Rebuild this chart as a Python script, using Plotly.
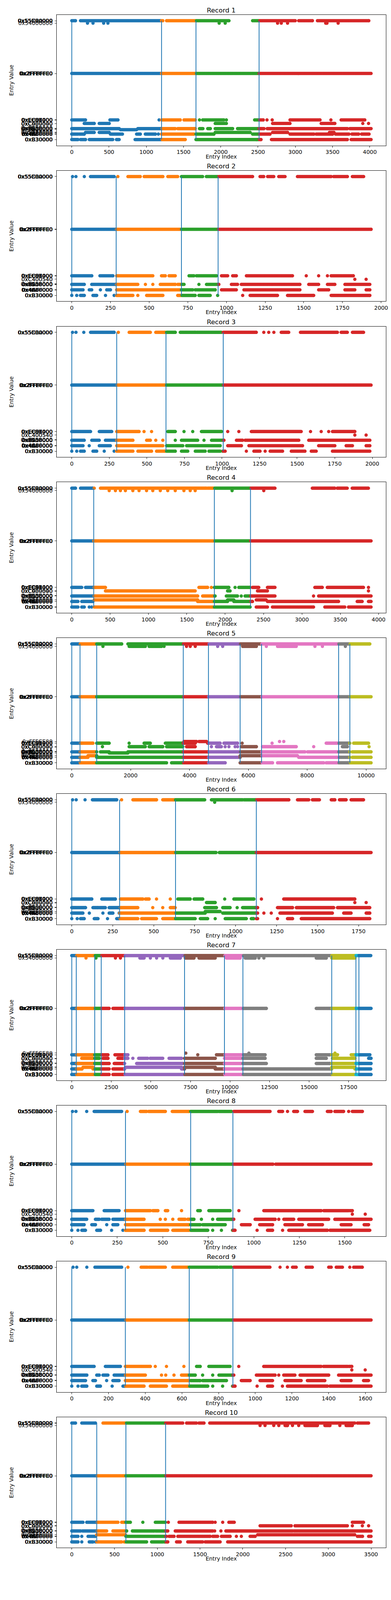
import numpy as np
import plotly.graph_objects as go

# ---------------- colours (matplotlib tab10 cycle) ----------------
TAB10 = ["#1f77b4", "#ff7f0e", "#2ca02c", "#d62728", "#9467bd",
         "#8c564b", "#e377c2", "#7f7f7f", "#bcbd22", "#17becf"]

# ---------------- value levels (entry values) ----------------
Y_T = 0x55C00000
Y_T2 = 0x54000000
Y_M = 0x2FFFFFE0
Y_L1A = 0xFFFCE80
Y_L1 = 0xEC03000
Y_L2 = 0xC400540
Y_L3 = 0x8900000
Y_L3B = 0x7D00000
Y_L4B = 0x5D00000
Y_L4 = 0x4A80000
Y_L5 = 0xB30000

# tick values shown on the y axes (clusters of nearby values)
TICKS_T = [0x55C00000, 0x55BFFF40, 0x55C3A000, 0x55BC0000, 0x55C0A540, 0x55BE5500, 0x55C1F000]
TICKS_T2 = [0x54000000]
TICKS_M = [0x2FFFFFE0, 0x2FFFF800, 0x2FFFE000, 0x2FFF8000, 0x2FFE0000, 0x2FF8FFE0, 0x2FFC7FE0]
TICKS_L1A = [0xFFFCE80]
TICKS_L1 = [0xEC03000, 0xEC31000, 0xECE3000, 0xEB9F000, 0xEC0C480, 0xEC9B400]
TICKS_L2_FULL = [0xC400540, 0xC000000, 0xC0B9000]
TICKS_L2_SIMPLE = [0xC400540, 0xC3F0540]
TICKS_L3 = [0x8900000, 0x8913F40, 0x88FE000, 0x8A3F000, 0x8E00000, 0x8D5B000]
TICKS_L3B = [0x7D00000]
TICKS_L4B = [0x5D00000, 0x5EFF000]
TICKS_L4 = [0x4A80000, 0x4AFF000, 0x4B3F000, 0x4C00000, 0x4A00000, 0x4BE5000]
TICKS_L5 = [0xB30000, 0xB2FF80, 0xB3F000, 0xB20000, 0xB4E000, 0xB3A9E0]

# ---------------- Record 1 ----------------
R1_N = 4017
R1_DTICK = 500
R1_BOUNDS = [0, 1205, 1667, 2514]
R1_T = [[0, 50], [117, 1205], [1222, 1222], [1272, 2110], [2427, 3000], [3046, 3230], [3297, 3986]]
R1_T2 = [[211, 211], [285, 285], [428, 428], [485, 485], [1978, 1978], [2059, 2059], [2762, 2762],
         [2812, 2812], [2896, 2896], [3408, 3425], [3575, 3575]]
R1_M = [[0, 4017]]
R1_L1 = [[0, 184], [512, 620], [1172, 1172], [1205, 1456], [1506, 1657], [1714, 1714], [1757, 2042],
         [2075, 2075], [2454, 2570], [2620, 2620], [2690, 2690], [2929, 3331], [3478, 3478], [3615, 3933]]
R1_L2 = [[167, 301], [368, 502], [1925, 2075], [2695, 2929], [3347, 3531], [3906, 3906], [3983, 3983]]
R1_L3 = [[0, 636], [887, 1389], [1422, 1657], [1714, 1760], [1825, 1860], [1925, 2159], [2225, 2390],
         [2400, 2580], [2623, 3699], [3732, 4017]]
R1_L3B = [[653, 870]]
R1_L4B = [[184, 301], [368, 502], [1925, 2394], [2695, 2896], [3458, 3520]]
R1_L4 = [[0, 84], [100, 167], [519, 680], [870, 920], [987, 1122], [1162, 1162], [1205, 1640],
         [1667, 1908], [2427, 2661], [2929, 3250], [3280, 3500], [3540, 3720], [3760, 3850], [3890, 3990]]
R1_L5 = [[0, 84], [117, 184], [235, 550], [600, 636], [850, 1523], [1667, 2480], [2490, 2540],
         [2680, 3699], [3750, 4017]]

# ---------------- Record 2 ----------------
R2_N = 1935
R2_DTICK = 250
R2_BOUNDS = [0, 287, 709, 946]
R2_T = [[5, 5], [27, 27], [81, 81], [121, 274], [298, 298], [363, 443], [468, 589], [621, 685],
        [709, 846], [870, 943], [951, 1169], [1217, 1241], [1266, 1306], [1338, 1379], [1459, 1677],
        [1693, 1782], [1814, 1887]]
R2_M = [[0, 1935]]
R2_L1 = [[0, 129], [182, 266], [290, 524], [580, 605], [629, 669], [758, 790], [806, 935], [968, 1008],
         [1040, 1064], [1129, 1427], [1516, 1516], [1596, 1596], [1653, 1653], [1677, 1820]]
R2_L2 = [[1830, 1830], [1903, 1903]]
R2_L3 = [[0, 81], [129, 282], [290, 427], [476, 476], [524, 524], [572, 669], [685, 726], [822, 822],
         [871, 951], [1032, 1072], [1096, 1475], [1532, 1596], [1653, 1701], [1766, 1927]]
R2_L4 = [[0, 73], [113, 129], [185, 185], [226, 250], [290, 701], [709, 782], [798, 927], [968, 1064],
         [1113, 1475], [1596, 1661], [1766, 1830], [1903, 1927]]
R2_L5 = [[0, 0], [32, 32], [56, 81], [137, 161], [218, 218], [274, 274], [290, 395], [427, 427],
         [484, 589], [685, 798], [822, 895], [943, 943], [1105, 1105], [1153, 1330], [1395, 1564],
         [1677, 1927]]

# ---------------- Record 3 ----------------
R3_N = 1992
R3_DTICK = 250
R3_BOUNDS = [0, 299, 627, 1008]
R3_T = [[5, 5], [28, 28], [80, 80], [125, 282], [310, 310], [382, 523], [559, 622], [631, 689],
        [722, 822], [830, 996], [1008, 1228], [1278, 1278], [1311, 1311], [1345, 1345], [1394, 1444],
        [1522, 1768], [1793, 1834], [1868, 1942]]
R3_M = [[0, 1992]]
R3_L1 = [[0, 125], [183, 266], [299, 448], [481, 481], [531, 531], [639, 689], [747, 747], [805, 805],
         [863, 996], [1038, 1038], [1112, 1112], [1195, 1527], [1589, 1589], [1660, 1660], [1710, 1710],
         [1735, 1884]]
R3_L2 = [[1884, 1884], [1959, 1959]]
R3_L3 = [[0, 83], [133, 183], [224, 407], [498, 523], [559, 559], [606, 606], [689, 689], [730, 838],
         [880, 880], [930, 1013], [1096, 1137], [1154, 1511], [1577, 1984]]
R3_L4 = [[0, 75], [116, 116], [183, 257], [299, 606], [631, 739], [764, 988], [1038, 1129], [1179, 1536],
         [1643, 1751], [1826, 1868], [1959, 1984]]
R3_L5 = [[0, 0], [33, 33], [58, 83], [141, 166], [216, 216], [282, 282], [299, 407], [440, 531],
         [564, 622], [631, 689], [730, 772], [822, 888], [913, 988], [1004, 1021], [1162, 1162],
         [1212, 1253], [1287, 1287], [1320, 1403], [1461, 1552], [1594, 1627], [1735, 1984]]

# ---------------- Record 4 ----------------
R4_N = 3902
R4_DTICK = 500
R4_BOUNDS = [0, 286, 1859, 2330]
R4_T = [[0, 49], [114, 276], [293, 293], [374, 1755], [1771, 2649], [3136, 3429], [3461, 3591], [3656, 3867]]
R4_T2 = [[488, 488], [569, 569], [634, 634], [699, 699], [796, 796], [877, 877], [975, 975], [1056, 1056],
         [1154, 1154], [1251, 1251], [1349, 1349], [1462, 1462], [1544, 1544], [1609, 1609], [2090, 2090],
         [2503, 2503]]
R4_M = [[0, 3902]]
R4_L1 = [[0, 130], [179, 276], [293, 439], [1658, 1771], [1820, 1820], [1859, 2048], [2129, 2129],
         [2178, 2324], [2356, 2438], [2551, 2649], [3169, 3266], [3331, 3803], [3868, 3868]]
R4_L2 = [[439, 1609], [2031, 2064], [2421, 2551], [3868, 3868]]
R4_L3 = [[0, 276], [293, 1641], [1706, 1869], [2015, 2161], [2210, 2210], [2259, 2649], [3152, 3152],
         [3218, 3902]]
R4_L4B = [[293, 1641], [2031, 2113], [2405, 2535]]
R4_L4 = [[0, 81], [130, 276], [1641, 1836], [1859, 2031], [2113, 2356], [2551, 3283], [3299, 3478],
         [3721, 3786], [3868, 3902]]
R4_L5 = [[0, 81], [130, 163], [228, 228], [260, 260], [293, 1853], [1859, 2324], [2405, 2551],
         [2616, 3152], [3299, 3559], [3608, 3902]]

# ---------------- Record 5 ----------------
R5_N = 10169
R5_DTICK = 2000
R5_BOUNDS = [0, 280, 847, 3788, 4644, 5720, 6449, 9067, 9448]
R5_T = [[0, 1695], [1907, 10127]]
R5_T2 = [[1059, 1059], [1949, 2500], [2627, 3051], [3135, 3135], [3898, 3898], [4025, 4025], [4195, 4195],
         [4957, 4957], [5127, 5127], [5805, 6271], [6610, 6610], [6991, 7330], [7372, 7627], [8262, 8262],
         [8516, 8516], [9296, 9296]]
R5_M = [[0, 10169]]
R5_L1A = [[3813, 4237], [4322, 4576], [7059, 7059], [7203, 7203]]
R5_L1 = [[0, 212], [254, 720], [847, 1271], [1949, 1949], [2457, 2669], [3178, 3771], [3788, 4195],
         [4618, 5042], [5169, 5635], [5788, 5788], [6805, 6805], [8644, 9448], [9576, 10084]]
R5_L2 = [[1042, 1042], [1949, 2500], [2627, 3093], [3220, 3771], [3898, 4195], [4745, 4745], [4915, 5084],
         [5212, 5212], [5339, 5339], [5550, 5550], [5635, 5635], [5762, 6271], [6483, 7627], [8220, 8220],
         [9194, 9364], [10101, 10101]]
R5_L3 = [[0, 847], [975, 1271], [1907, 7924], [8008, 9448], [9533, 10169]]
R5_L3B = [[1271, 1907]]
R5_L4B = [[550, 847], [5720, 7669]]
R5_L4 = [[0, 550], [847, 5720], [7711, 9448], [9533, 10169]]
R5_L5 = [[0, 3220], [3390, 5212], [5720, 6822], [6991, 8559], [8644, 10169]]

# ---------------- Record 6 ----------------
R6_N = 1826
R6_DTICK = 250
R6_BOUNDS = [0, 292, 633, 1126]
R6_T = [[5, 5], [27, 27], [81, 81], [126, 274], [304, 304], [373, 517], [555, 811], [852, 1042],
        [1050, 1324], [1377, 1446], [1468, 1511], [1583, 1605], [1633, 1674], [1704, 1780]]
R6_T2 = [[872, 872]]
R6_M = [[0, 880], [900, 1826]]
R6_L1 = [[0, 122], [183, 266], [297, 434], [449, 472], [517, 517], [601, 601], [647, 723], [746, 799],
         [933, 933], [989, 1111], [1157, 1157], [1293, 1700], [1704, 1727]]
R6_L2 = [[822, 875], [1727, 1727], [1796, 1796]]
R6_L3 = [[0, 84], [129, 160], [167, 205], [228, 289], [297, 403], [494, 494], [555, 555], [601, 631],
         [811, 883], [921, 966], [1009, 1009], [1042, 1134], [1255, 1347], [1370, 1598], [1621, 1818]]
R6_L4B = [[814, 905]]
R6_L4 = [[0, 68], [107, 107], [190, 190], [228, 251], [289, 814], [921, 1134], [1172, 1172], [1217, 1217],
         [1270, 1590], [1659, 1704], [1796, 1818]]
R6_L5 = [[0, 0], [33, 33], [53, 76], [137, 160], [218, 218], [274, 403], [426, 517], [555, 753],
         [784, 829], [875, 875], [936, 1065], [1095, 1110], [1126, 1134], [1255, 1255], [1316, 1347],
         [1400, 1818]]

# ---------------- Record 7 ----------------
R7_N = 18919
R7_DTICK = 2500
R7_BOUNDS = [0, 284, 1451, 1861, 3343, 7128, 9651, 10818, 16432, 17962, 18151]
R7_T = [[0, 18900]]
R7_T2 = [[899, 899], [1530, 1530], [2760, 2760], [3075, 3075], [4305, 4573], [4967, 4967], [5361, 5361],
         [5756, 5756], [6229, 6860], [7175, 7727], [8042, 9067], [9777, 10645], [10960, 11591],
         [11827, 11827], [12143, 12143], [15454, 16085], [16432, 17898]]
R7_M = [[0, 2365], [2602, 12300], [15454, 18919]]
R7_L1A = [[7207, 7207], [11196, 11196], [16637, 16637]]
R7_L1 = [[0, 1340], [1451, 2287], [2728, 3548], [7964, 7964], [9146, 12221], [15454, 16321],
         [16432, 16800], [17661, 17898], [17962, 18845]]
R7_L2 = [[631, 1340], [1451, 1735], [1971, 2287], [2917, 3233], [3343, 3548], [3861, 3861], [4230, 4800],
         [4950, 5750], [6150, 6938], [7128, 9067], [9651, 10724], [10818, 12221], [15454, 16085],
         [16480, 17898], [18765, 18919]]
R7_L3 = [[0, 1419], [1451, 2365], [2681, 3343], [4100, 7017], [7128, 9620], [9651, 10724], [10818, 12300],
         [15454, 16321], [16432, 18919]]
R7_L4B = [[710, 1340], [3390, 6938], [7128, 9067], [16432, 17898]]
R7_L4 = [[0, 650], [1340, 2365], [2602, 3343], [6938, 7128], [9067, 16432], [17898, 18900]]
R7_L5 = [[0, 2365], [2602, 18919]]

# ---------------- Record 8 ----------------
R8_N = 1644
R8_DTICK = 250
R8_BOUNDS = [0, 295, 653, 885]
R8_T = [[4, 4], [23, 23], [82, 82], [123, 274], [304, 304], [377, 411], [422, 514], [552, 644], [653, 801],
        [808, 877], [890, 1089], [1137, 1158], [1185, 1185], [1219, 1240], [1281, 1322], [1404, 1425],
        [1445, 1493], [1521, 1521], [1541, 1596]]
R8_M = [[0, 1105], [1120, 1644]]
R8_L1 = [[0, 116], [178, 260], [295, 432], [445, 473], [514, 527], [603, 603], [692, 706], [753, 870],
         [918, 918], [1055, 1370], [1384, 1521], [1528, 1541]]
R8_L2 = [[1541, 1541], [1612, 1612]]
R8_L3 = [[0, 82], [130, 151], [164, 205], [226, 397], [486, 486], [514, 514], [555, 555], [589, 623],
         [637, 671], [712, 712], [774, 774], [801, 890], [1007, 1117], [1137, 1137], [1165, 1219],
         [1247, 1411], [1445, 1644]]
R8_L4 = [[0, 68], [110, 130], [192, 192], [226, 253], [295, 644], [653, 706], [719, 843], [932, 980],
         [1032, 1103], [1171, 1267], [1301, 1377], [1480, 1534], [1606, 1630]]
R8_L5 = [[0, 0], [34, 34], [55, 75], [137, 158], [219, 219], [281, 281], [295, 397], [432, 527], [555, 644],
         [651, 747], [774, 774], [822, 822], [883, 897], [1018, 1018], [1075, 1103], [1158, 1158],
         [1192, 1404], [1418, 1637]]

# ---------------- Record 9 ----------------
R9_N = 1631
R9_DTICK = 200
R9_BOUNDS = [0, 292, 640, 878]
R9_T = [[7, 7], [27, 27], [82, 82], [126, 272], [306, 306], [378, 412], [421, 510], [550, 632], [640, 795],
        [806, 870], [883, 1080], [1135, 1135], [1175, 1175], [1203, 1223], [1277, 1311], [1400, 1414],
        [1441, 1475], [1515, 1515], [1536, 1583]]
R9_M = [[0, 1631]]
R9_L1 = [[0, 122], [183, 265], [292, 428], [455, 455], [516, 516], [611, 611], [680, 700], [747, 863],
         [910, 910], [1046, 1359], [1372, 1502], [1510, 1526]]
R9_L2 = [[1526, 1526], [1599, 1599]]
R9_L3 = [[0, 82], [136, 150], [170, 197], [231, 401], [489, 489], [512, 512], [557, 557], [598, 673],
         [713, 713], [768, 768], [802, 883], [1006, 1108], [1128, 1128], [1155, 1216], [1244, 1400],
         [1454, 1631]]
R9_L4 = [[0, 75], [115, 129], [190, 190], [224, 258], [292, 639], [648, 700], [713, 843], [924, 972],
         [1026, 1094], [1162, 1250], [1284, 1379], [1468, 1522], [1590, 1617]]
R9_L5 = [[0, 0], [34, 34], [54, 82], [136, 156], [220, 220], [279, 394], [428, 516], [550, 741], [768, 768],
         [822, 822], [876, 890], [1010, 1010], [1067, 1094], [1148, 1148], [1175, 1393], [1406, 1631]]

# ---------------- Record 10 ----------------
R10_N = 3500
R10_DTICK = 500
R10_BOUNDS = [0, 292, 633, 1097]
R10_T = [[0, 44], [117, 277], [365, 1298], [1342, 1458], [1487, 1546], [1613, 3310], [3340, 3471]]
R10_T2 = [[2202, 2202], [2260, 2260], [2362, 2362], [2421, 2421], [2494, 2523], [2581, 2581], [2654, 2654],
          [2727, 2873], [2960, 3019], [3135, 3135], [3208, 3281]]
R10_M = [[0, 3500]]
R10_L1 = [[0, 131], [175, 540], [583, 685], [831, 831], [977, 1094], [1129, 1129], [1254, 1648],
          [1677, 1677], [1765, 1765], [1837, 1900], [3281, 3412]]
R10_L2 = [[2202, 2567], [2610, 3223], [3281, 3281], [3398, 3398], [3471, 3471]]
R10_L3 = [[0, 102], [125, 408], [481, 642], [709, 963], [977, 1123], [1210, 1648], [1671, 1671],
          [1744, 1744], [1802, 2581], [2596, 3500]]
R10_L4B = [[292, 627], [2173, 3310]]
R10_L4 = [[0, 73], [117, 117], [190, 277], [633, 1108], [1137, 1196], [1240, 1619], [1648, 1706],
          [1750, 1852], [1925, 1925], [1983, 1983], [2085, 2144], [3340, 3400], [3471, 3500]]
R10_L5 = [[0, 73], [117, 117], [204, 248], [277, 583], [612, 875], [933, 1065], [1079, 1123], [1225, 1269],
          [1356, 1531], [1560, 1735], [1823, 3500]]

# ---------------- assemble ----------------
LEVEL_Y = {"T": Y_T, "T2": Y_T2, "M": Y_M, "L1A": Y_L1A, "L1": Y_L1, "L2": Y_L2,
           "L3": Y_L3, "L3B": Y_L3B, "L4B": Y_L4B, "L4": Y_L4, "L5": Y_L5}

RECORDS = [
    dict(n=R1_N, dtick=R1_DTICK, bounds=R1_BOUNDS, l2=TICKS_L2_FULL,
         levels=dict(T=R1_T, T2=R1_T2, M=R1_M, L1=R1_L1, L2=R1_L2, L3=R1_L3, L3B=R1_L3B, L4B=R1_L4B, L4=R1_L4, L5=R1_L5)),
    dict(n=R2_N, dtick=R2_DTICK, bounds=R2_BOUNDS, l2=TICKS_L2_SIMPLE,
         levels=dict(T=R2_T, M=R2_M, L1=R2_L1, L2=R2_L2, L3=R2_L3, L4=R2_L4, L5=R2_L5)),
    dict(n=R3_N, dtick=R3_DTICK, bounds=R3_BOUNDS, l2=TICKS_L2_SIMPLE,
         levels=dict(T=R3_T, M=R3_M, L1=R3_L1, L2=R3_L2, L3=R3_L3, L4=R3_L4, L5=R3_L5)),
    dict(n=R4_N, dtick=R4_DTICK, bounds=R4_BOUNDS, l2=TICKS_L2_FULL,
         levels=dict(T=R4_T, T2=R4_T2, M=R4_M, L1=R4_L1, L2=R4_L2, L3=R4_L3, L4B=R4_L4B, L4=R4_L4, L5=R4_L5)),
    dict(n=R5_N, dtick=R5_DTICK, bounds=R5_BOUNDS, l2=TICKS_L2_FULL,
         levels=dict(T=R5_T, T2=R5_T2, M=R5_M, L1A=R5_L1A, L1=R5_L1, L2=R5_L2, L3=R5_L3, L3B=R5_L3B, L4B=R5_L4B, L4=R5_L4, L5=R5_L5)),
    dict(n=R6_N, dtick=R6_DTICK, bounds=R6_BOUNDS, l2=TICKS_L2_FULL,
         levels=dict(T=R6_T, T2=R6_T2, M=R6_M, L1=R6_L1, L2=R6_L2, L3=R6_L3, L4B=R6_L4B, L4=R6_L4, L5=R6_L5)),
    dict(n=R7_N, dtick=R7_DTICK, bounds=R7_BOUNDS, l2=TICKS_L2_FULL,
         levels=dict(T=R7_T, T2=R7_T2, M=R7_M, L1A=R7_L1A, L1=R7_L1, L2=R7_L2, L3=R7_L3, L4B=R7_L4B, L4=R7_L4, L5=R7_L5)),
    dict(n=R8_N, dtick=R8_DTICK, bounds=R8_BOUNDS, l2=TICKS_L2_SIMPLE,
         levels=dict(T=R8_T, M=R8_M, L1=R8_L1, L2=R8_L2, L3=R8_L3, L4=R8_L4, L5=R8_L5)),
    dict(n=R9_N, dtick=R9_DTICK, bounds=R9_BOUNDS, l2=TICKS_L2_SIMPLE,
         levels=dict(T=R9_T, M=R9_M, L1=R9_L1, L2=R9_L2, L3=R9_L3, L4=R9_L4, L5=R9_L5)),
    dict(n=R10_N, dtick=R10_DTICK, bounds=R10_BOUNDS, l2=TICKS_L2_FULL,
         levels=dict(T=R10_T, T2=R10_T2, M=R10_M, L1=R10_L1, L2=R10_L2, L3=R10_L3, L4B=R10_L4B, L4=R10_L4, L5=R10_L5)),
]

LEVEL_TICKS = {"T": TICKS_T, "T2": TICKS_T2, "M": TICKS_M, "L1A": TICKS_L1A, "L1": TICKS_L1,
               "L3": TICKS_L3, "L3B": TICKS_L3B, "L4B": TICKS_L4B, "L4": TICKS_L4, "L5": TICKS_L5}

# ---------------- layout geometry (pixels) ----------------
# The photographed area of the page is only about 4000px tall, so the whole
# figure is laid out in that height (vertical geometry scaled by 0.8).
W, H = 1000, 4000
VS = H / 5000.0
AX_L, AX_R = 137.3, 979.3
TOP0, PITCH, AX_H = 37.3 * VS, 498.6 * VS, 418.4 * VS
FONT = "DejaVu Sans"
TICK_FS = 13.9
TITLE_FS = 16.7

fig = go.Figure()
layout = dict(width=W, height=H, autosize=False, margin=dict(l=0, r=0, t=0, b=0, pad=0),
              paper_bgcolor="white", plot_bgcolor="white", showlegend=False,
              font=dict(family=FONT, size=TICK_FS, color="black"))
annotations = []

for k, rec in enumerate(RECORDS):
    n = rec["n"]
    bounds = np.array(rec["bounds"])
    step = max(1.0, n / 420.0)
    xs, ys = [], []
    for lvl, runs in rec["levels"].items():
        yv = LEVEL_Y[lvl]
        for a, b in runs:
            pts = np.arange(a, b, step) if b > a else np.array([], dtype=float)
            pts = np.append(pts, b)
            xs.append(pts)
            ys.append(np.full(len(pts), yv, dtype=float))
    xs = np.concatenate(xs)
    ys = np.concatenate(ys)
    seg = np.searchsorted(bounds, xs, side="right") - 1
    xa = "x" if k == 0 else f"x{k+1}"
    ya = "y" if k == 0 else f"y{k+1}"
    for s in range(len(bounds)):
        m = seg == s
        fig.add_trace(go.Scatter(x=xs[m], y=ys[m], mode="markers",
                                 marker=dict(size=8.5, color=TAB10[s % 10], line=dict(width=0)),
                                 xaxis=xa, yaxis=ya, hoverinfo="skip"))
    vx, vy = [], []
    for b in rec["bounds"]:
        vx += [b, b, None]
        vy += [Y_L5, Y_T, None]
    fig.add_trace(go.Scatter(x=vx, y=vy, mode="lines", line=dict(color=TAB10[0], width=2),
                             xaxis=xa, yaxis=ya, hoverinfo="skip"))

    # y ticks
    tv = []
    for lvl in rec["levels"]:
        if lvl == "L2":
            tv += rec["l2"]
        else:
            tv += LEVEL_TICKS[lvl]
    tt = ["0x%X" % v for v in tv]

    ymin, ymax = Y_L5, Y_T
    ypad = 0.05 * (ymax - ymin)
    xpad = 0.05 * n

    top = TOP0 + k * PITCH
    bot = top + AX_H
    ydom = [1 - bot / H, 1 - top / H]
    xdom = [AX_L / W, AX_R / W]

    axis_common = dict(showline=True, linecolor="black", linewidth=1, mirror=True,
                       ticks="outside", ticklen=4, tickwidth=1, tickcolor="black",
                       showgrid=False, zeroline=False, automargin=False,
                       tickfont=dict(family=FONT, size=TICK_FS, color="black"))
    layout["xaxis" if k == 0 else f"xaxis{k+1}"] = dict(
        domain=xdom, anchor=ya, range=[-xpad, n + xpad], tick0=0, dtick=rec["dtick"],
        tickformat="d", ticklabelstandoff=0, **axis_common)
    layout["yaxis" if k == 0 else f"yaxis{k+1}"] = dict(
        domain=ydom, anchor=xa, range=[ymin - ypad, ymax + ypad], tickmode="array",
        tickvals=tv, ticktext=tt, ticklabelstandoff=3, **axis_common)

    cx = (AX_L + AX_R) / 2 / W
    annotations.append(dict(text=f"Record {k+1}", x=cx, y=1 - (top - 15 * VS) / H, xref="paper", yref="paper",
                            showarrow=False, xanchor="center", yanchor="middle",
                            font=dict(family=FONT, size=TITLE_FS, color="black")))
    annotations.append(dict(text="Entry Index", x=cx, y=1 - (bot + 35 * VS) / H, xref="paper", yref="paper",
                            showarrow=False, xanchor="center", yanchor="middle",
                            font=dict(family=FONT, size=TICK_FS, color="black")))
    annotations.append(dict(text="Entry Value", x=21 / W, y=1 - (top + AX_H / 2) / H, xref="paper",
                            yref="paper", showarrow=False, xanchor="center", yanchor="middle",
                            textangle=-90, font=dict(family=FONT, size=TICK_FS, color="black")))

layout["annotations"] = annotations
fig.update_layout(**layout)
fig.write_html("out.html", config={"responsive": False})
